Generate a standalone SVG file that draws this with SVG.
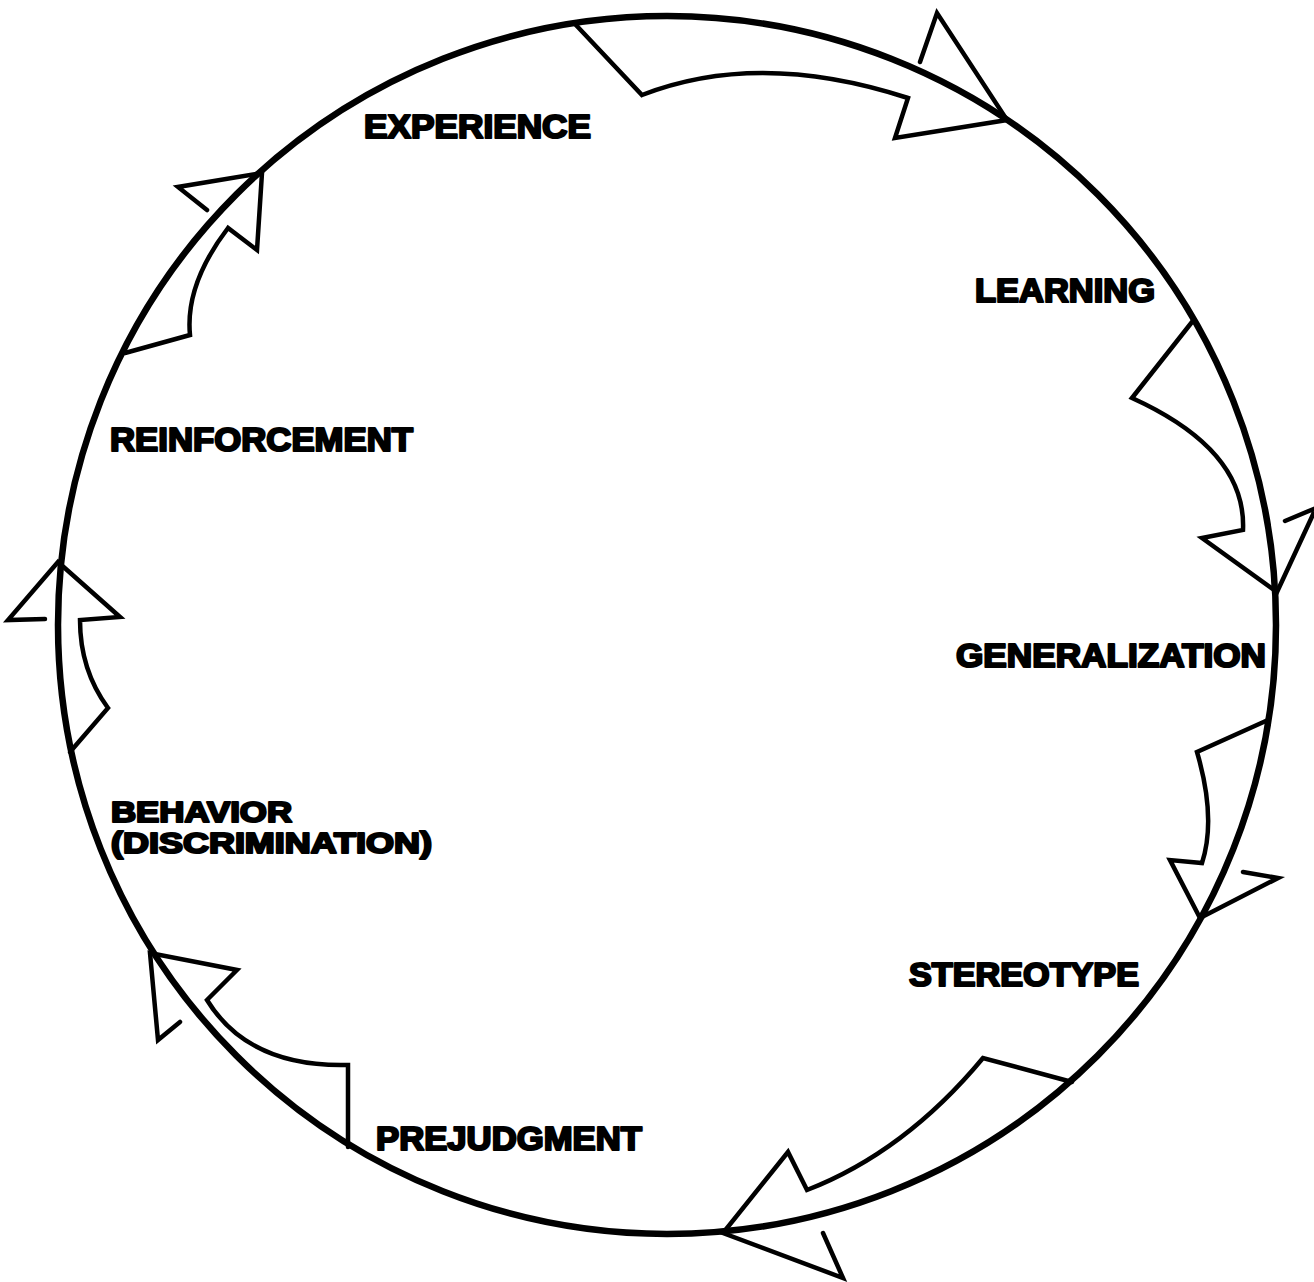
<svg xmlns="http://www.w3.org/2000/svg" width="1314" height="1282" viewBox="0 0 1314 1282">
<style>
.ring{fill:none;stroke:#000;stroke-width:6.5}
.arr{fill:none;stroke:#000;stroke-width:4.5;stroke-linejoin:miter;stroke-linecap:round}
.lbl{font-family:"Liberation Sans",Arial,sans-serif;font-weight:bold;font-size:33px;fill:#000;stroke:#000;stroke-width:2.2;stroke-linejoin:round}
.sm{font-size:29px}
</style>
<rect width="1314" height="1282" fill="#fff"/>
<g id="cycle">
<circle class="ring" cx="667" cy="625" r="609"/>
</g>
<g id="connectors">
<path class="arr" d="M575,24 L642,95 Q759,49.5 908,98 L895,138 L1007,120 L937,13 L920,62"/>
<path class="arr" d="M1192,322 L1132,398 Q1246.5,450 1243,530 L1202,538 L1277,592 L1316,508 L1285,521"/>
<path class="arr" d="M1268,720 L1197,752 Q1216.5,818.5 1202,863 L1170,860 L1200,918 L1278,878 L1243,872"/>
<path class="arr" d="M1072,1082 L983,1058 Q905,1152 807,1190 L788,1152 L723,1233 L843,1278 L823,1233"/>
<path class="arr" d="M348,1147 L348,1065 Q248.5,1067.5 207,1000 L237,970 L150,953 L158,1040 L180,1022"/>
<path class="arr" d="M70,752 L108,708 Q80,670 80,620 L120,617 L58,562 L8,620 L45,619"/>
<path class="arr" d="M125,353 L190,335 Q185,284.5 228,228 L257,250 L262,173 L178,187 L207,210"/>
</g>
<g id="experience"><text class="lbl" x="364" y="138" textLength="227" lengthAdjust="spacingAndGlyphs">EXPERIENCE</text></g>
<g id="learning"><text class="lbl" x="975" y="302" textLength="180" lengthAdjust="spacingAndGlyphs">LEARNING</text></g>
<g id="generalization"><text class="lbl" x="956" y="667" textLength="310" lengthAdjust="spacingAndGlyphs">GENERALIZATION</text></g>
<g id="stereotype"><text class="lbl" x="909" y="986" textLength="230" lengthAdjust="spacingAndGlyphs">STEREOTYPE</text></g>
<g id="prejudgment"><text class="lbl" x="376" y="1150" textLength="266" lengthAdjust="spacingAndGlyphs">PREJUDGMENT</text></g>
<g id="behavior"><text class="lbl sm" x="111" y="822" textLength="181" lengthAdjust="spacingAndGlyphs">BEHAVIOR</text><text class="lbl sm" x="111" y="853" textLength="321" lengthAdjust="spacingAndGlyphs">(DISCRIMINATION)</text></g>
<g id="reinforcement"><text class="lbl" x="110" y="451" textLength="303" lengthAdjust="spacingAndGlyphs">REINFORCEMENT</text></g>
</svg>
